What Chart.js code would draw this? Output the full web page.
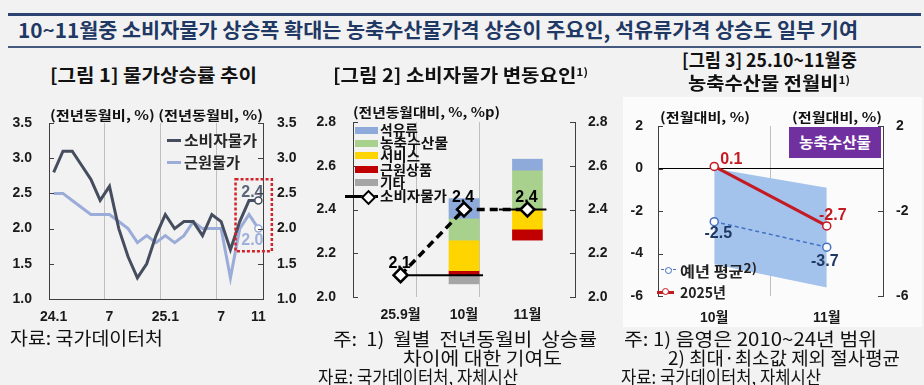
<!DOCTYPE html>
<html>
<head>
<meta charset="utf-8">
<script src="https://cdn.jsdelivr.net/npm/chart.js@4.4.1/dist/chart.umd.min.js"></script>
<style>
body { margin: 0; width: 924px; height: 385px; background: #f2f2f2; position: relative; overflow: hidden;
       font-family: "Noto Sans CJK KR", "Noto Sans", sans-serif; color: #111; }
.t { position: absolute; white-space: nowrap; line-height: 1; transform-origin: 0 50%; }
.t sup { font-size: 0.6em; vertical-align: 0; position: relative; top: -0.55em; }
canvas { position: absolute; }
.abs { position: absolute; }
</style>
</head>
<body>
<div class="abs" style="left:8px;top:13px;width:913px;height:2.5px;background:#2e4470"></div>
<div class="abs" style="left:8px;top:46px;width:913px;height:2px;background:#45597f"></div>
<div class="abs" style="left:623px;top:97px;width:299px;height:230px;background:#fbfbfb"></div>

<canvas id="c1" width="310" height="240" style="left:0;top:95px"></canvas>
<canvas id="c2" width="320" height="235" style="left:300px;top:95px"></canvas>
<canvas id="c3" width="314" height="235" style="left:610px;top:95px"></canvas>

<script>
// [그림 1] 물가상승률 추이
const months = ['24.1','24.2','24.3','24.4','24.5','24.6','24.7','24.8','24.9','24.10','24.11','24.12',
                '25.1','25.2','25.3','25.4','25.5','25.6','25.7','25.8','25.9','25.10','25.11'];
const monthTicks = ['24.1','','','','','','7','','','','','','25.1','','','','','','7','','','','11'];
const cpi  = [2.8, 3.1, 3.1, 2.9, 2.7, 2.4, 2.6, 2.0, 1.6, 1.3, 1.5, 1.9, 2.2, 2.0, 2.1, 2.1, 1.9, 2.2, 2.1, 1.7, 2.1, 2.4, 2.4];
const core = [2.5, 2.5, 2.4, 2.3, 2.2, 2.2, 2.2, 2.1, 2.0, 1.8, 1.9, 1.8, 1.9, 1.8, 1.9, 2.1, 2.0, 2.0, 2.0, 1.3, 2.0, 2.2, 2.0];

// [그림 2] 소비자물가 변동요인 (전월 수준 대비 기여도, %p)
const periods = ['25.9월', '10월', '11월'];
const cpiLevel = [2.1, 2.4, 2.4];
const parts = ['석유류', '농축수산물', '서비스', '근원상품', '기타'];
const oil       = [0, 0.09, 0.05];
const agri      = [0, 0.10, 0.18];
const service   = [0, 0.14, -0.09];
const coreGoods = [0, 0.02, -0.05];
const other     = [0, -0.04, 0];

// [그림 3] 농축수산물 전월비
const months3 = ['10월', '11월'];
const agri2025 = [0.1, -2.7];
const agriAvg = [-2.5, -3.7];
const rangeHigh = [0.0, -0.9];
const rangeLow = [-4.5, -5.6];
const rightTicks3 = [2, -2, -6];

const AXIS = '#404040', GRID = '#bfbfbf', TXT = '#1a1a1a';
const DARK = '#454d5e', LIGHT = '#9cacd9';
const partColors = ['#8eaadb', '#a9d18e', '#ffd500', '#c00000', '#a5a5a5'];
const RED = '#c41a22', BLUE = '#4472c4', NAVY = '#1f3864';
const NUMFONT = { family: '"Liberation Sans", "Noto Sans CJK KR", sans-serif', size: 14, weight: 'bold' };
const LABELFONT = 'bold 16px "Liberation Sans", "Noto Sans CJK KR", sans-serif';

// text helper: x = left, cy = vertical centre, w = width to fit
function T(html, x, cy, w, size, weight, color) {
  const d = document.createElement('div');
  d.className = 't';
  d.innerHTML = html;
  d.style.left = x + 'px';
  d.style.top = (cy - size * 0.55) + 'px';
  d.style.fontSize = size + 'px';
  d.style.fontWeight = weight;
  d.style.color = color;
  d.dataset.w = w;
  document.body.appendChild(d);
  return d;
}
function fitAll() {
  document.querySelectorAll('.t').forEach(d => {
    d.style.transform = 'none';
    const nat = d.getBoundingClientRect().width;
    d.style.transform = 'scaleX(' + (d.dataset.w / nat) + ')';
  });
}
function box(x, y, w, h, css) {
  const d = document.createElement('div');
  d.className = 'abs';
  d.style.cssText += `left:${x}px;top:${y}px;width:${w}px;height:${h}px;` + css;
  document.body.appendChild(d);
  return d;
}

// headings and notes
T('10~11월중 소비자물가 상승폭 확대는 농축수산물가격 상승이 주요인, 석유류가격 상승도 일부 기여', 18, 31, 840, 20, 700, '#1f3864');
T('[그림 1] 물가상승률 추이', 50, 75, 207, 18, 700, '#111');
T('[그림 2] 소비자물가 변동요인<sup>1)</sup>', 333, 75, 255, 18, 700, '#111');
T('[그림 3] 25.10~11월중', 682, 60, 175, 18, 700, '#111');
T('농축수산물 전월비<sup>1)</sup>', 688, 83, 162, 18, 700, '#111');
T('(전년동월비, %) (전년동월비, %)', 50, 115, 213, 13, 700, '#111');
T('(전년동월대비, %, %p)', 353, 112, 147, 13, 700, '#111');
T('(전월대비, %)', 660, 117, 90, 13, 700, '#111');
T('(전월대비, %)', 792, 117, 90, 13, 700, '#111');
T('자료: 국가데이터처', 10, 338, 153, 18, 400, '#111');
T('주:&nbsp; 1)&nbsp; 월별&nbsp; 전년동월비&nbsp; 상승률', 333, 339, 264, 18, 400, '#111');
T('차이에 대한 기여도', 403, 358, 159, 18, 400, '#111');
T('자료: 국가데이터처, 자체시산', 318, 377, 200, 18, 400, '#111');
T('주: 1) 음영은 2010~24년 범위', 624, 339, 253, 18, 400, '#111');
T('2) 최대·최소값 제외 절사평균', 668, 358, 232, 18, 400, '#111');
T('자료: 국가데이터처, 자체시산', 621, 377, 200, 18, 400, '#111');

// legend 1
box(167, 138.5, 14, 3, 'background:' + DARK);
T('소비자물가', 184, 140, 73, 15, 700, '#262626');
box(167, 160.5, 14, 3, 'background:' + LIGHT);
T('근원물가', 184, 162, 56, 15, 700, '#262626');

// legend 2
const legY2 = [130, 143, 155.5, 169.5, 182.5];
const legW2 = [38, 68, 40, 52, 25];
parts.forEach((p, k) => {
  box(355, legY2[k] - 3.5, 23, 7, 'background:' + partColors[k]);
  T(p, 380, legY2[k], legW2[k], 14, 700, '#111');
});
box(345, 194.5, 33, 3, 'background:#000');
box(363, 192, 7, 7, 'background:#fff;border:2px solid #000;transform:rotate(45deg)');
T('소비자물가', 380, 196, 67, 14, 700, '#111');

// legend 3 + label box
box(661, 269, 15, 0, 'border-top:1.5px dashed ' + BLUE);
box(665, 266.5, 5, 5, 'border:1.5px solid ' + BLUE + ';border-radius:50%;background:#fbfbfb');
T('예년 평균<sup style="font-size:0.85em;top:-0.3em">2)</sup>', 680, 271, 77, 15, 700, '#222');
box(657, 290.5, 17, 3, 'background:' + RED);
box(662, 288, 5, 5, 'border:1.5px solid ' + RED + ';border-radius:50%;background:#fbfbfb');
T('2025년', 680, 292, 46, 15, 700, '#222');
box(789, 127, 92, 31, 'background:#7030a0');
T('농축수산물', 799, 142.5, 72, 15, 700, '#fff');

function innerTicks(id, ids) {
  return {
    id: id,
    afterDraw(chart) {
      const { ctx, chartArea: a } = chart;
      ctx.save();
      ctx.strokeStyle = AXIS;
      ctx.lineWidth = 1;
      ids.forEach(sid => {
        const s = chart.scales[sid];
        const left = s.position === 'left';
        s.ticks.forEach(t => {
          const y = Math.round(s.getPixelForValue(t.value)) + 0.5;
          const x = left ? a.left : a.right;
          ctx.beginPath();
          ctx.moveTo(x, y);
          ctx.lineTo(left ? x + 5 : x - 5, y);
          ctx.stroke();
        });
      });
      ctx.restore();
    }
  };
}

function drawLabel(chart, ds, i, text, color, dx, dy) {
  const p = chart.getDatasetMeta(ds).data[i];
  const ctx = chart.ctx;
  ctx.save();
  ctx.font = LABELFONT;
  ctx.fillStyle = color;
  ctx.textAlign = 'center';
  ctx.textBaseline = 'middle';
  ctx.fillText(text, p.x + dx, p.y + dy);
  ctx.restore();
}

function yAxis(pos, min, max, step, width, pad, extra) {
  return Object.assign({
    position: pos, min: min, max: max,
    ticks: { stepSize: step, padding: pad, font: NUMFONT, color: TXT,
             callback: v => (step < 1 ? v.toFixed(1) : String(v)) },
    grid: { display: false, drawTicks: false },
    border: { color: AXIS },
    afterFit: s => { s.width = width; }
  }, extra || {});
}

// chart 1
const last = cpi.length - 1;
new Chart(document.getElementById('c1'), {
  type: 'line',
  data: {
    labels: months,
    datasets: [
      { label: '소비자물가', data: cpi, borderColor: DARK, borderWidth: 3, tension: 0,
        pointRadius: c => (c.dataIndex === last ? 3.5 : 0), pointBackgroundColor: '#fff',
        pointBorderColor: DARK, pointBorderWidth: 1.5 },
      { label: '근원물가', data: core, borderColor: LIGHT, borderWidth: 3, tension: 0,
        pointRadius: c => (c.dataIndex === last ? 3.5 : 0), pointBackgroundColor: '#fff',
        pointBorderColor: LIGHT, pointBorderWidth: 1.5 }
    ]
  },
  options: {
    responsive: false, animation: false,
    layout: { padding: { top: 28 } },
    plugins: { legend: { display: false }, tooltip: { enabled: false } },
    scales: {
      x: {
        offset: true,
        grid: { offset: true, drawTicks: false, color: c => ([6, 12, 18].includes(c.index) ? GRID : 'rgba(0,0,0,0)') },
        border: { color: AXIS },
        ticks: { autoSkip: false, maxRotation: 0, padding: 10, font: NUMFONT, color: TXT, callback: (v, i) => monthTicks[i] },
        afterFit: s => { s.height = 36; }
      },
      y: yAxis('left', 1, 3.5, 0.5, 49, 17),
      y2: yAxis('right', 1, 3.5, 0.5, 47, 14)
    }
  },
  plugins: [innerTicks('it1', ['y', 'y2']), {
    id: 'deco1',
    afterDatasetsDraw(chart) {
      const x = chart.scales.x, y = chart.scales.y, ctx = chart.ctx;
      ctx.save();
      ctx.strokeStyle = '#d3232a';
      ctx.lineWidth = 2.5;
      ctx.setLineDash([3, 2]);
      const x0 = x.getPixelForValue(last - 2.45), x1 = x.getPixelForValue(last + 1.45);
      const y0 = y.getPixelForValue(2.7), y1 = y.getPixelForValue(1.68);
      ctx.strokeRect(x0, y0, x1 - x0, y1 - y0);
      ctx.restore();
      drawLabel(chart, 0, last, cpi[last].toFixed(1), '#5b6477', -6, -8);
      drawLabel(chart, 1, last, core[last].toFixed(1), '#a0afdb', -6, 12);
    }
  }]
});

// chart 2: floating contribution bars stacked from the previous month's level
const contrib = [oil, agri, service, coreGoods, other];
const ranges = contrib.map(() => []);
for (let i = 1; i < periods.length; i++) {
  let up = cpiLevel[i - 1], down = cpiLevel[i - 1];
  [4, 3, 2, 1, 0].forEach(k => {
    const v = contrib[k][i];
    if (v > 0) { ranges[k].push({ x: i, y: [up, up + v] }); up += v; }
  });
  [0, 1, 2, 3, 4].forEach(k => {
    const v = contrib[k][i];
    if (v < 0) { ranges[k].push({ x: i, y: [down + v, down] }); down += v; }
  });
}
const refStart = [0, 1.55];
const refLines = [1, 2].map(i => ({
  type: 'line', data: [{ x: refStart[i - 1], y: cpiLevel[i - 1] }, { x: i + 0.3, y: cpiLevel[i - 1] }],
  borderColor: '#000', borderWidth: 2, pointRadius: 0, order: 1
}));

new Chart(document.getElementById('c2'), {
  type: 'bar',
  data: {
    datasets: [
      { type: 'line', label: '소비자물가', data: cpiLevel.map((v, i) => ({ x: i, y: v })),
        borderColor: '#000', borderWidth: 3.5, borderDash: [8, 5], pointStyle: 'rectRot', pointRadius: 7,
        pointBackgroundColor: '#fff', pointBorderColor: '#000', pointBorderWidth: 2.5, order: 0 },
      ...refLines,
      ...parts.map((p, k) => ({ label: p, data: ranges[k], backgroundColor: partColors[k],
        barThickness: 30, grouped: false, borderWidth: 0, order: 2 }))
    ]
  },
  options: {
    responsive: false, animation: false,
    layout: { padding: { top: 27 } },
    plugins: { legend: { display: false }, tooltip: { enabled: false } },
    scales: {
      x: {
        type: 'linear', min: -0.5, max: 2.5,
        afterBuildTicks: s => { s.ticks = [-0.5, 0, 0.5, 1, 1.5, 2, 2.5].map(v => ({ value: v })); },
        grid: { drawTicks: false, color: c => (c.tick && (c.tick.value === 0.5 || c.tick.value === 1.5) ? GRID : 'rgba(0,0,0,0)') },
        border: { display: false },
        ticks: { autoSkip: false, maxRotation: 0, padding: 10, font: NUMFONT, color: TXT,
                 callback: v => (Number.isInteger(v) ? periods[v] : '') },
        afterFit: s => { s.height = 33; }
      },
      y: yAxis('left', 2.0, 2.8, 0.2, 53, 17),
      y2: yAxis('right', 2.0, 2.8, 0.2, 45, 13)
    }
  },
  plugins: [innerTicks('it2', ['y', 'y2']), {
    id: 'deco2',
    afterDatasetsDraw(chart) {
      cpiLevel.forEach((v, i) => drawLabel(chart, 0, i, v.toFixed(1), '#000', -1, -12));
    }
  }]
});

// chart 3
new Chart(document.getElementById('c3'), {
  type: 'line',
  data: {
    labels: months3,
    datasets: [
      { label: '2025년', data: agri2025, borderColor: RED, borderWidth: 3, pointRadius: 4,
        pointBackgroundColor: '#fbfbfb', pointBorderColor: RED, pointBorderWidth: 1.5 },
      { label: '예년 평균', data: agriAvg, borderColor: BLUE, borderWidth: 1.5, borderDash: [4, 3], pointRadius: 4,
        pointBackgroundColor: '#fbfbfb', pointBorderColor: BLUE, pointBorderWidth: 1.5 },
      { label: '상단', data: rangeHigh, borderWidth: 0, pointRadius: 0, backgroundColor: '#a3c2ec', fill: '+1' },
      { label: '하단', data: rangeLow, borderWidth: 0, pointRadius: 0, fill: false }
    ]
  },
  options: {
    responsive: false, animation: false,
    layout: { padding: { top: 31 } },
    plugins: { legend: { display: false }, tooltip: { enabled: false } },
    scales: {
      x: {
        offset: true,
        grid: { offset: true, drawTicks: false, color: c => (c.index === 1 ? GRID : 'rgba(0,0,0,0)') },
        border: { display: false },
        ticks: { autoSkip: false, maxRotation: 0, padding: 14, font: NUMFONT, color: TXT },
        afterFit: s => { s.height = 34; }
      },
      y: yAxis('left', -6, 2, 2, 48, 15, {
        grid: { drawTicks: false, color: c => (c.tick && c.tick.value === 0 ? '#000' : 'rgba(0,0,0,0)') }
      }),
      y2: yAxis('right', -6, 2, 2, 41, 13, {
        afterBuildTicks: s => { s.ticks = rightTicks3.map(v => ({ value: v })); }
      })
    }
  },
  plugins: [innerTicks('it3', ['y', 'y2']), {
    id: 'deco3',
    afterDatasetsDraw(chart) {
      drawLabel(chart, 0, 0, agri2025[0].toFixed(1), RED, 17, -7);
      drawLabel(chart, 0, 1, agri2025[1].toFixed(1), RED, 6, -10);
      drawLabel(chart, 1, 0, agriAvg[0].toFixed(1), NAVY, 4, 12);
      drawLabel(chart, 1, 1, agriAvg[1].toFixed(1), NAVY, -2, 14);
    }
  }]
});

fitAll();
if (document.fonts) document.fonts.ready.then(fitAll);
</script>
</body>
</html>
